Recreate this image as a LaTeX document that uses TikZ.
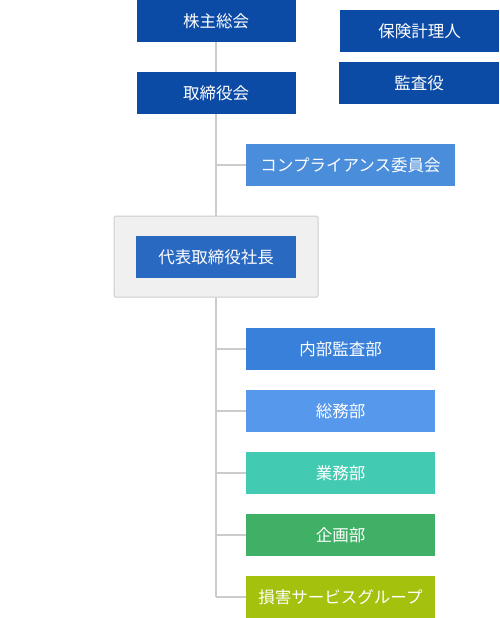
\documentclass[tikz,border=0pt]{standalone}
\usepackage{fontspec}
\setmainfont{Noto Sans CJK JP}
\definecolor{navy}{HTML}{0B4BA5}
\definecolor{pres}{HTML}{2A69C2}
\definecolor{comp}{HTML}{4A8DDB}
\definecolor{naibu}{HTML}{3880D9}
\definecolor{soumu}{HTML}{5598EC}
\definecolor{gyoumu}{HTML}{43CAB2}
\definecolor{kikaku}{HTML}{3FB066}
\definecolor{songai}{HTML}{A4C10E}
\definecolor{linegray}{HTML}{CCCCCC}
\definecolor{panel}{HTML}{F0F0F0}
\begin{document}
\begin{tikzpicture}[x=1pt,y=-1pt,
  orgbox/.style={draw=none,inner sep=0pt,minimum height=42pt,text=white,font=\fontsize{16.5}{19}\selectfont},
  conn/.style={draw=linegray,line width=1.3pt}]
\useasboundingbox (0,0) rectangle (500,618);
\node[draw=linegray,line width=1pt,fill=panel,rounded corners=1.5pt,minimum width=204pt,minimum height=81pt,inner sep=0pt] (panel) at (216,256.5) {};
\node[orgbox,fill=navy,minimum width=159pt] (kabu) at (216,21) {株主総会};
\node[orgbox,fill=navy,minimum width=159pt] (hoken) at (419.5,31) {保険計理人};
\node[orgbox,fill=navy,minimum width=160pt] (kansa) at (419,83) {監査役};
\node[orgbox,fill=navy,minimum width=159pt] (tori) at (216,93) {取締役会};
\node[orgbox,fill=comp,minimum width=209pt] (comp) at (350.5,165) {コンプライアンス委員会};
\node[orgbox,fill=pres,minimum width=160pt] (pres) at (216,257) {代表取締役社長};
\node[orgbox,fill=naibu,minimum width=189pt] (naibu) at (340.5,349) {内部監査部};
\node[orgbox,fill=soumu,minimum width=189pt] (soumu) at (340.5,411) {総務部};
\node[orgbox,fill=gyoumu,minimum width=189pt] (gyoumu) at (340.5,473) {業務部};
\node[orgbox,fill=kikaku,minimum width=189pt] (kikaku) at (340.5,535) {企画部};
\node[orgbox,fill=songai,minimum width=189pt] (songai) at (340.5,597) {損害サービスグループ};
\coordinate (end) at (216,597);
\draw[conn] (kabu.south) -- (tori.north);
\draw[conn] (tori.south) -- (panel.north);
\draw[conn] (panel.south) -- (end);
\draw[conn] (tori.south |- comp.west) -- (comp.west);
\draw[conn] (end |- naibu.west) -- (naibu.west);
\draw[conn] (end |- soumu.west) -- (soumu.west);
\draw[conn] (end |- gyoumu.west) -- (gyoumu.west);
\draw[conn] (end |- kikaku.west) -- (kikaku.west);
\draw[conn] (end) -- (songai.west);
\end{tikzpicture}
\end{document}
